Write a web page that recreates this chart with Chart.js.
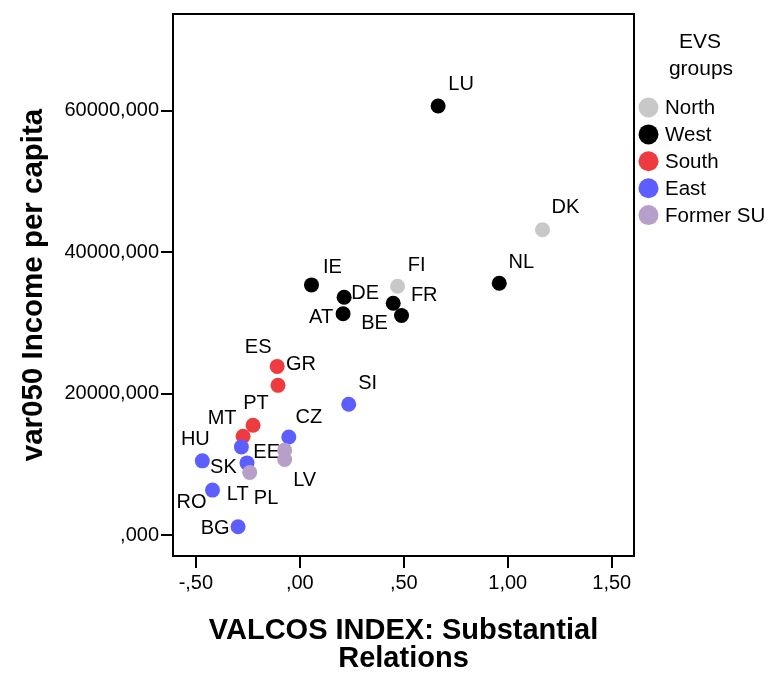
<!DOCTYPE html>
<html>
<head>
<meta charset="utf-8">
<script src="https://cdn.jsdelivr.net/npm/chart.js@4"></script>
<style>
  html, body { margin: 0; padding: 0; background: #fff; }
</style>
</head>
<body>
<canvas id="scatter" width="770" height="673"></canvas>
<script>
const groups = ['North', 'West', 'South', 'East', 'Former SU'];
const countries = ['LU', 'DK', 'NL', 'FI', 'FR', 'BE', 'IE', 'DE', 'AT', 'ES', 'GR', 'PT', 'MT',
  'SI', 'CZ', 'SK', 'PL', 'HU', 'RO', 'BG', 'EE', 'LV', 'LT'];
const countryGroup = ['West', 'North', 'West', 'North', 'West', 'West', 'West', 'West', 'West',
  'South', 'South', 'South', 'South', 'East', 'East', 'East', 'East', 'East', 'East', 'East',
  'Former SU', 'Former SU', 'Former SU'];
const valcos = [0.665, 1.167, 0.959, 0.470, 0.449, 0.489, 0.056, 0.213, 0.208, -0.109, -0.105,
  -0.225, -0.273, 0.235, -0.053, -0.281, -0.254, -0.469, -0.420, -0.297, -0.073, -0.073, -0.241];
const income = [60690, 43190, 35610, 35190, 32790, 31050, 35380, 33630, 31290, 23850, 21170,
  15530, 13970, 18490, 13870, 12460, 10200, 10490, 6350, 1170, 12000, 10680, 8850];

const xTickValues = [-0.5, 0, 0.5, 1, 1.5];
const xTickLabels = ['-,50', ',00', ',50', '1,00', '1,50'];
const yTickValues = [0, 20000, 40000, 60000];
const yTickLabels = [',000', '20000,000', '40000,000', '60000,000'];

// styling
const groupColors = {
  'North': '#c8c8c8',
  'West': '#000000',
  'South': '#ee3b3f',
  'East': '#5c5eff',
  'Former SU': '#b6a0ca'
};
// where each country's label sits relative to its marker (px)
const labelOffsets = {
  LU: [23, -21], DK: [23, -22], NL: [22, -21], FI: [19, -21], FR: [31, -8], BE: [-27, 8],
  IE: [21, -17], DE: [21, -4], AT: [-22, 4], ES: [-19, -19], GR: [23, -21], PT: [3, -22],
  MT: [-21, -18], SI: [19, -21], CZ: [20, -19], SK: [-18, 21], PL: [19, 36], HU: [-7, -21],
  RO: [-21, 12], BG: [-23, 2], EE: [-18, 2], LV: [20, 21], LT: [-12, 22]
};
const FONT = "'Liberation Sans', Arial, sans-serif";

const datasets = groups.map((g, gi) => ({
  label: g,
  data: countries
    .map((c, i) => ({ x: valcos[i], y: income[i], code: c, group: countryGroup[i] }))
    .filter(p => p.group === g),
  backgroundColor: groupColors[g],
  borderWidth: 0,
  pointRadius: 7.5,
  pointHoverRadius: 7.5,
  order: groups.length - gi
}));

const pointLabels = {
  id: 'pointLabels',
  beforeDatasetsDraw(chart) {
    const ctx = chart.ctx;
    ctx.save();
    ctx.font = '20px ' + FONT;
    ctx.fillStyle = '#000';
    ctx.textAlign = 'center';
    ctx.textBaseline = 'middle';
    chart.data.datasets.forEach((ds, di) => {
      const meta = chart.getDatasetMeta(di);
      meta.data.forEach((pt, j) => {
        const code = ds.data[j].code;
        const off = labelOffsets[code] || [15, -15];
        ctx.fillText(code, pt.x + off[0], pt.y + off[1]);
      });
    });
    ctx.restore();
  }
};

const frameAndLegend = {
  id: 'frameAndLegend',
  afterDraw(chart) {
    const { ctx, chartArea } = chart;
    ctx.save();
    ctx.strokeStyle = '#000';
    ctx.lineWidth = 2;
    ctx.strokeRect(chartArea.left, chartArea.top,
      chartArea.right - chartArea.left, chartArea.bottom - chartArea.top);

    // legend
    ctx.fillStyle = '#000';
    ctx.textAlign = 'center';
    ctx.textBaseline = 'middle';
    ctx.font = '21px ' + FONT;
    ctx.fillText('EVS', 700, 42);
    ctx.fillText('groups', 701, 69);
    ctx.font = '20.5px ' + FONT;
    ctx.textAlign = 'left';
    groups.forEach((g, i) => {
      const y = 107.5 + i * 26.9;
      ctx.beginPath();
      ctx.arc(648.5, y, 10, 0, Math.PI * 2);
      ctx.fillStyle = groupColors[g];
      ctx.fill();
      ctx.fillStyle = '#000';
      ctx.fillText(g, 665, y + 1);
    });
    ctx.restore();
  }
};

new Chart(document.getElementById('scatter'), {
  type: 'scatter',
  data: { datasets },
  options: {
    responsive: false,
    animation: false,
    devicePixelRatio: 1,
    layout: { padding: { left: 0, top: 13, right: 136, bottom: 0 } },
    plugins: {
      legend: { display: false },
      tooltip: { enabled: false }
    },
    scales: {
      x: {
        type: 'linear',
        min: -0.61,
        max: 1.607,
        afterFit: s => { s.height = 117; },
        afterBuildTicks: s => { s.ticks = xTickValues.map(v => ({ value: v })); },
        grid: { drawOnChartArea: false, drawTicks: true, tickLength: 12, color: '#000', lineWidth: 2 },
        border: { display: false },
        ticks: {
          autoSkip: false, maxRotation: 0, padding: 3, color: '#000',
          font: { family: FONT, size: 20 },
          callback: (v, i) => xTickLabels[i]
        },
        title: {
          display: true,
          text: ['VALCOS INDEX: Substantial', 'Relations'],
          color: '#000',
          font: { family: FONT, size: 29, weight: 'bold', lineHeight: 0.97 },
          padding: { top: 0, bottom: 0 }
        }
      },
      y: {
        type: 'linear',
        min: -2970,
        max: 73700,
        afterFit: s => { s.width = 173; },
        afterBuildTicks: s => { s.ticks = yTickValues.map(v => ({ value: v })); },
        grid: { drawOnChartArea: false, drawTicks: true, tickLength: 12, color: '#000', lineWidth: 2 },
        border: { display: false },
        ticks: {
          autoSkip: false, padding: 2, color: '#000',
          font: { family: FONT, size: 20 },
          callback: (v, i) => yTickLabels[i]
        },
        title: {
          display: true,
          text: 'var050 Income per capita',
          color: '#000',
          font: { family: FONT, size: 29.5, weight: 'bold', lineHeight: 1.1 },
          padding: { top: 18, bottom: 0 }
        }
      }
    }
  },
  plugins: [pointLabels, frameAndLegend]
});
</script>
</body>
</html>
